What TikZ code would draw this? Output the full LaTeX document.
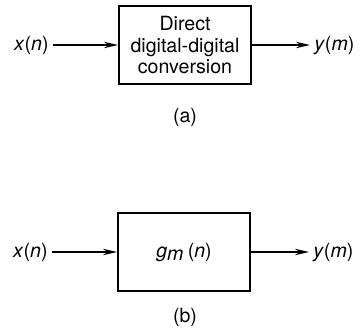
\documentclass[tikz,border=0pt]{standalone}
\usepackage{fontspec}
\setmainfont{TeX Gyre Heros}
\usetikzlibrary{arrows.meta, positioning}

\begin{document}
\begin{tikzpicture}[
        x=0.5pt, y=-0.5pt,
        font=\fontsize{9.8}{10.6}\selectfont,
        >={Stealth[length=7pt, width=3.2pt]},
        blk/.style={draw, line width=1pt, align=center, inner sep=0pt, minimum width=66pt, minimum height=39pt},
        sig/.style={inner sep=2pt},
        wire/.style={->, line width=0.8pt},
        pcap/.style={inner sep=0pt}
    ]
        \useasboundingbox (0,0) rectangle (364,333);

        %=================== PANEL (a) ===================
        \node[blk] (conv) at (185,45) {Direct\\digital-digital\\conversion};
        \node[sig, left=32.5pt of conv] (xa) {\textit{x}(\textit{n})};
        \node[sig, right=29pt of conv] (ya) {\textit{y}(\textit{m})};
        \draw[wire] (xa) -- (conv);
        \draw[wire] (conv) -- (ya);
        \node[pcap] (capa) at (185,117) {(a)};

        %=================== PANEL (b) ===================
        \node[blk] (filt) at (184,252) {\textit{g}$_{\textit{m}}$\,(\textit{n})};
        \node[sig, left=32.5pt of filt] (xb) {\textit{x}(\textit{n})};
        \node[sig, right=29pt of filt] (yb) {\textit{y}(\textit{m})};
        \draw[wire] (xb) -- (filt);
        \draw[wire] (filt) -- (yb);
        \node[pcap] (capb) at (185,317) {(b)};
    \end{tikzpicture}
\end{document}
